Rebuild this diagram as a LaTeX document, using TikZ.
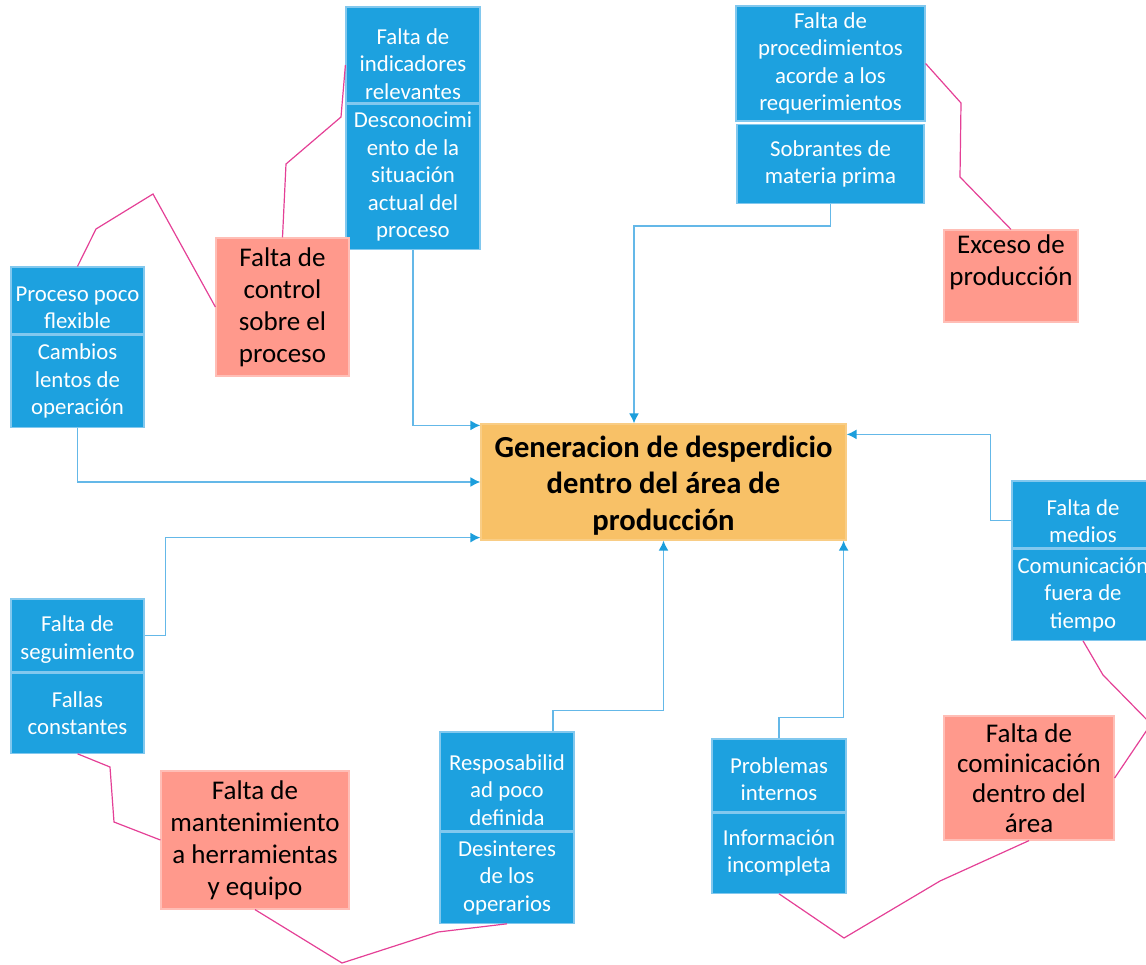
\documentclass[tikz,border=0pt]{standalone}
\usepackage{fontspec}
\setmainfont{Carlito}
\usetikzlibrary{arrows.meta, positioning, calc}

\definecolor{azul}{RGB}{29,161,223}
\definecolor{azulborde}{RGB}{130,200,238}
\definecolor{azullinea}{RGB}{100,184,232}
\definecolor{azulflecha}{RGB}{28,158,220}
\definecolor{salmon}{RGB}{255,153,140}
\definecolor{salmonborde}{RGB}{255,190,182}
\definecolor{naranja}{RGB}{248,193,103}
\definecolor{rosa}{RGB}{228,64,150}

% baja la primera linea del texto
\newcommand{\bajar}[1]{\rule{0pt}{#1}}

\begin{document}
\begin{tikzpicture}[
    x=0.5pt, y=-0.5pt,
    causa/.style={rectangle, fill=azul, draw=azulborde, line width=0.6pt, text=white, align=center, inner sep=0pt, font=\fontsize{11.4}{13.75}\selectfont},
    problema/.style={rectangle, fill=salmon, draw=salmonborde, line width=0.6pt, align=center, inner sep=0pt, font=\fontsize{13.5}{16}\selectfont},
    efecto/.style={rectangle, fill=naranja, draw=naranja!80!white, line width=0.6pt, align=center, inner sep=0pt, font=\bfseries\fontsize{15.3}{18.25}\selectfont},
    flecha/.style={-{Latex[length=5pt, width=5pt, color=azulflecha]}, draw=azullinea, line width=0.8pt},
    enlace/.style={draw=rosa, line width=0.6pt}
]
\useasboundingbox (0,0) rectangle (1146,964);
\clip (0,0) rectangle (1146,964);

% efecto central
\node[efecto, minimum width=182.5pt, minimum height=58pt] (centro) at (663.5,482) {\bajar{14pt}Generacion de desperdicio\\dentro del área de\\producción};

% causas arriba
\node[causa, minimum width=67pt, minimum height=48pt] (indic) at (413,55) {\bajar{17pt}Falta de\\indicadores\\relevantes};
\node[causa, minimum width=67pt, minimum height=72.5pt, below=0pt of indic] (descon) {Desconocimi\\ento de la\\situación\\actual del\\proceso};

\node[causa, minimum width=94.5pt, minimum height=57.5pt] (procedim) at (830.5,63.5) {Falta de\\procedimientos\\acorde a los\\requerimientos};
\node[causa, minimum width=93.5pt, minimum height=39.5pt, below=1pt of procedim] (sobrantes) {Sobrantes de\\materia prima};

\node[causa, minimum width=66.5pt, minimum height=33.5pt] (proceso) at (77.5,300.5) {\bajar{14.5pt}Proceso poco\\flexible};
\node[causa, minimum width=66.5pt, minimum height=46pt, below=0pt of proceso] (cambios) {Cambios\\lentos de\\operación};

% causas abajo
\node[causa, minimum width=71pt, minimum height=33.5pt] (medios) at (1083,514.5) {\bajar{14.5pt}Falta de\\medios};
\node[causa, minimum width=71pt, minimum height=45.5pt, below=0pt of medios] (comunica) {Comunicación\\fuera de\\tiempo};

\node[causa, minimum width=66.5pt, minimum height=36.5pt] (seguim) at (77.5,635.5) {\bajar{12pt}Falta de\\seguimiento};
\node[causa, minimum width=66.5pt, minimum height=40pt, below=0pt of seguim] (fallas) {Fallas\\constantes};

\node[causa, minimum width=67pt, minimum height=49.5pt] (respons) at (507,781.5) {\bajar{16.5pt}Resposabilid\\ad poco\\definida};
\node[causa, minimum width=67pt, minimum height=45.5pt, below=0pt of respons] (desint) {Desinteres\\de los\\operarios};

\node[causa, minimum width=67pt, minimum height=36.5pt] (problemas) at (779,775.5) {\bajar{11.5pt}Problemas\\internos};
\node[causa, minimum width=67pt, minimum height=40pt, below=0pt of problemas] (informa) {Información\\incompleta};

% problemas (salmon)
\node[problema, minimum width=66.5pt, minimum height=69pt] (control) at (282.5,307) {Falta de\\control\\sobre el\\proceso};
\node[problema, minimum width=67pt, minimum height=46pt] (exceso) at (1011,276) {Exceso de\\producción\\\mbox{}};
\node[problema, minimum width=85pt, minimum height=62pt, font=\fontsize{13.5}{15}\selectfont] (cominic) at (1029,778) {Falta de\\cominicación\\dentro del\\área};
\node[problema, minimum width=94pt, minimum height=69pt] (mant) at (255,840) {Falta de\\mantenimiento\\a herramientas\\y equipo};

% flechas hacia el efecto
\draw[flecha] (descon.south) |- ([yshift=-1pt]centro.north west);
\draw[flecha] (sobrantes.south) -- ++(0,22) -| ($(centro.north)+(-29.5,0)$);
\draw[flecha] (cambios.south) |- (centro.west);
\draw[flecha] (seguim.east) -- ++(21,0) |- ([yshift=1.5pt]centro.south west);
\draw[flecha] ([xshift=23pt]respons.north) -- ++(0,-21) -| (centro.south);
\draw[flecha] (problemas.north) -- ++(0,-21) -| ([xshift=-1.5pt]centro.south east);
\draw[flecha] ([yshift=-3pt]medios.west) -- ++(-21,0) |- ([yshift=-5.5pt]centro.north east);

% enlaces problema - causas
\draw[enlace] (control.north) -- (286,164) -- (341,117) -- ([yshift=-5pt]indic.west);
\draw[enlace] (control.west) -- (153,194) -- (96,229) -- (proceso.north);
\draw[enlace] (procedim.east) -- (961,103) -- (960,177) -- (exceso.north);
\draw[enlace] (comunica.south) -- (1103,675) -- (1151,724) -- (cominic.east);
\draw[enlace] (informa.south) -- (844,938) -- (940,881) -- (cominic.south);
\draw[enlace] (mant.south) -- (342,963) -- (438,932) -- (desint.south);
\draw[enlace] (fallas.south) -- (110,767) -- (114,822) -- (mant.west);

\end{tikzpicture}
\end{document}
